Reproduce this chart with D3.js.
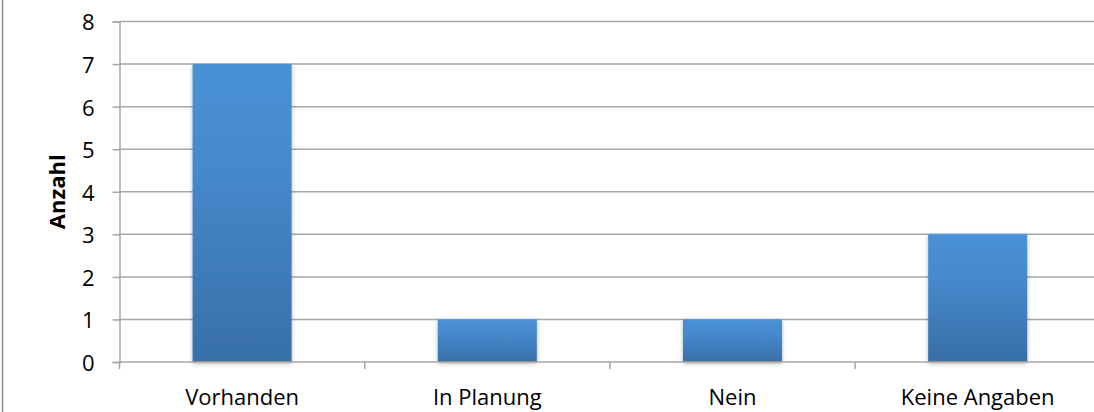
<!DOCTYPE html>
<html>
<head>
<meta charset="utf-8">
<script src="https://cdn.jsdelivr.net/npm/d3@7"></script>
<style>
  html, body { margin: 0; padding: 0; background: #fff; }
  svg { display: block; }
  text { font-family: "Open Sans", sans-serif; fill: #000; }
</style>
</head>
<body>
<svg id="chart" width="1094" height="412"></svg>
<script>
const categories = ["Vorhanden", "In Planung", "Nein", "Keine Angaben"];
const counts = [7, 1, 1, 3];
const yTicks = [0, 1, 2, 3, 4, 5, 6, 7, 8];
const yTitle = "Anzahl";

const FONT = "'Open Sans', sans-serif";
const svg = d3.select("#chart");
const margin = { left: 119.5, right: -6.3, top: 21.5 };
const W = 1094, H = 412;
const x = d3.scaleBand()
  .domain(categories)
  .range([margin.left, W - margin.right])
  .paddingInner(0.596)
  .paddingOuter(0.298);
const y = d3.scaleLinear().domain([0, 8]).range([362, margin.top]);

const defs = svg.append("defs");
const grad = defs.append("linearGradient")
  .attr("id", "barFill").attr("x1", 0).attr("y1", 0).attr("x2", 0).attr("y2", 1);
grad.append("stop").attr("offset", "0%").attr("stop-color", "#4a91d6");
grad.append("stop").attr("offset", "35%").attr("stop-color", "#4689cc");
grad.append("stop").attr("offset", "100%").attr("stop-color", "#386fa8");
const shadow = defs.append("filter").attr("id", "barShadow")
  .attr("x", "-10%").attr("y", "-10%").attr("width", "120%").attr("height", "120%");
shadow.append("feDropShadow").attr("dx", 0).attr("dy", 1.5)
  .attr("stdDeviation", 2).attr("flood-color", "#000").attr("flood-opacity", 0.3);

// outer frame line on the left
svg.append("line").attr("x1", 2.5).attr("x2", 2.5).attr("y1", 0).attr("y2", H)
  .attr("stroke", "#8c8c8c").attr("stroke-width", 1.5);

// horizontal gridlines
svg.append("g").selectAll("line").data(yTicks.slice(1)).join("line")
  .attr("x1", margin.left).attr("x2", W)
  .attr("y1", d => y(d)).attr("y2", d => y(d))
  .attr("stroke", "#a6a6a6").attr("stroke-width", 1.5);

// y axis
const yAxis = svg.append("g").attr("transform", `translate(${margin.left},0)`)
  .call(d3.axisLeft(y).tickValues(yTicks).tickSize(7).tickPadding(18).tickFormat(d3.format("d")));
yAxis.select(".domain").attr("stroke", "#a6a6a6").attr("stroke-width", 1.5);
yAxis.selectAll(".tick line").attr("stroke", "#a6a6a6").attr("stroke-width", 1.5);
yAxis.selectAll(".tick text").attr("font-size", 22).attr("font-family", FONT)
  .attr("fill", "#000").attr("dy", "0.38em");

// bars
svg.append("g").selectAll("rect").data(categories).join("rect")
  .attr("x", d => x(d))
  .attr("width", x.bandwidth())
  .attr("y", (d, i) => y(counts[i]))
  .attr("height", (d, i) => y(0) - y(counts[i]))
  .attr("fill", "url(#barFill)")
  .attr("filter", "url(#barShadow)");

// x axis
const step = x.step();
const xBoundaries = d3.range(categories.length + 1).map(i => margin.left + i * step);
svg.append("line").attr("x1", margin.left).attr("x2", W)
  .attr("y1", y(0)).attr("y2", y(0))
  .attr("stroke", "#a6a6a6").attr("stroke-width", 1.5);
svg.append("g").selectAll("line").data(xBoundaries).join("line")
  .attr("x1", d => d).attr("x2", d => d)
  .attr("y1", y(0)).attr("y2", y(0) + 7)
  .attr("stroke", "#a6a6a6").attr("stroke-width", 1.5);
svg.append("g").selectAll("text").data(categories).join("text")
  .attr("x", d => x(d) + x.bandwidth() / 2)
  .attr("y", 405)
  .attr("text-anchor", "middle")
  .attr("font-size", 22)
  .text(d => d);

// y axis title
svg.append("text")
  .attr("transform", `translate(65,${y(4)}) rotate(-90)`)
  .attr("text-anchor", "middle")
  .attr("font-size", 22)
  .attr("font-weight", "bold")
  .text(yTitle);
</script>
</body>
</html>
